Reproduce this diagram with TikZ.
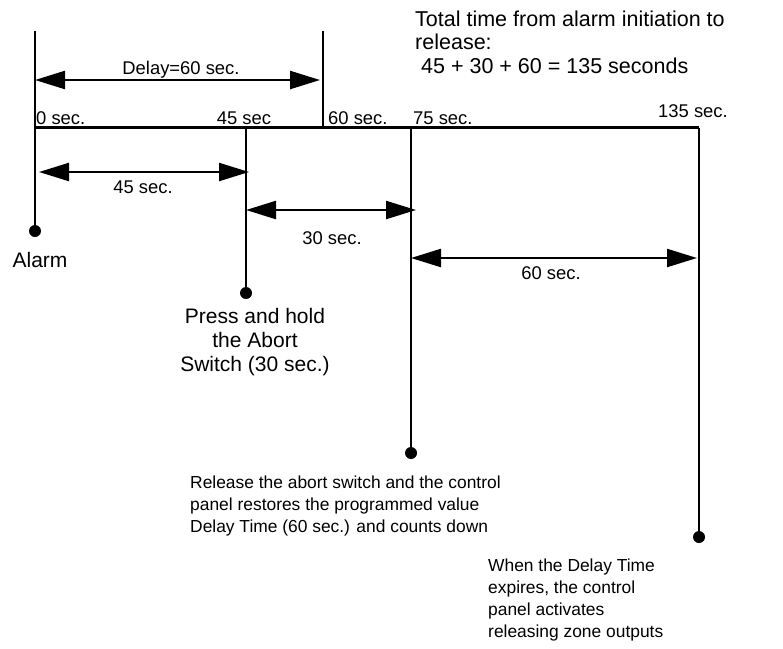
\documentclass[tikz,border=0pt]{standalone}
\usepackage{fontspec}
\setmainfont{Liberation Sans}
\usetikzlibrary{arrows.meta,positioning}
\definecolor{tlInk}{HTML}{000000}

\begin{document}
\begin{tikzpicture}[x=1pt, y=-1pt,
  tlLine/.style={tlInk, line width=2.3pt},
  tlSpan/.style={tlLine,
    {Triangle[length=30pt,width=18pt]}-{Triangle[length=30pt,width=18pt]}},
  tlDot/.style={circle, fill=tlInk, inner sep=0pt, minimum size=12pt},
  tlTick/.style={font=\fontsize{18.4}{22}\selectfont, inner sep=0pt},
  tlNote/.style={font=\fontsize{21}{24}\selectfont, inner sep=0pt},
  tlSmall/.style={font=\fontsize{17.4}{21.8}\selectfont, inner sep=0pt}]

\useasboundingbox (0,0) rectangle (783,648);

% --- DATA ---
\def\yLine{127.5}   % the time line
\def\yTop{31}       % top of the long marks

% --- TIME MARKS ---
\coordinate (t0)   at (35,\yLine);
\coordinate (t45)  at (246,\yLine);
\coordinate (t60)  at (323,\yLine);
\coordinate (t75)  at (411,\yLine);
\coordinate (t135) at (699,\yLine);
\coordinate (top0)  at (35,\yTop);
\coordinate (top60) at (323,\yTop);

% --- DOTS ---
\node[tlDot] (alarm)   at (35,231) {};
\node[tlDot] (abort)   at (246,293) {};
\node[tlDot] (restore) at (411,453) {};
\node[tlDot] (expire)  at (699,537) {};

% --- LINES ---
\draw[tlLine] (t0) -- (t135);
\draw[tlLine] (top0) -- (alarm.center);
\draw[tlLine] (top60) -- (t60);
\draw[tlLine] (t45) -- (abort.center);
\draw[tlLine] (t75) -- (restore.center);
\draw[tlLine] (t135) -- (expire.center);

% --- TICK LABELS ---
\foreach \nm/\px/\py/\anc/\txt in {l0/36/124/base west/0 sec.,
    l45/244/124/base/45 sec, l60/328/124/base west/60 sec.,
    l75/413/124/base west/75 sec., l135/693/117/base/135 sec.} {
  \node[tlTick, anchor=\anc] (\nm) at (\px,\py) {\txt};
}

% --- SPANS ---
\coordinate (d0)  at (35,80);
\coordinate (d60) at (320,80);
\draw[tlSpan] (d0) -- (d60);
\node[tlTick, anchor=base] (delay) at (181,74) {Delay=60 sec.};

\coordinate (s0)  at (39,172);
\coordinate (s45) at (249,172);
\draw[tlSpan] (s0) -- (s45);
\node[tlTick, anchor=base] (span45) at (143,193) {45 sec.};

\coordinate (h45) at (246,210);
\coordinate (h75) at (416,210);
\draw[tlSpan] (h45) -- (h75);
\node[tlTick, anchor=base] (span30) at (332,244) {30 sec.};

\coordinate (c75)  at (411,258);
\coordinate (c135) at (697,258);
\draw[tlSpan] (c75) -- (c135);
\node[tlTick, anchor=base] (span60) at (551,279) {60 sec.};

% --- NOTES (anchored on the last line) ---
\node[font=\fontsize{21.5}{23.7}\selectfont, inner sep=0pt, align=left,
  anchor=base west] (total) at (415,73.5)
  {Total time from alarm initiation to\\release:\\\ 45 + 30 + 60 = 135 seconds};
\node[tlNote, anchor=base] (alarmtxt) at (40,267) {Alarm};
\node[tlNote, align=center, anchor=base] (aborttxt) at (255,371)
  {Press and hold\\the Abort\\Switch (30 sec.)};
\node[tlSmall, align=left, anchor=base west] (restoretxt) at (190,532.5)
  {Release the abort switch and the control\\panel restores the programmed value\\Delay Time (60 sec.) and counts down};
\node[tlSmall, align=left, anchor=base west] (expiretxt) at (488,637)
  {When the Delay Time\\expires, the control\\panel activates\\releasing zone outputs};

\end{tikzpicture}
\end{document}
